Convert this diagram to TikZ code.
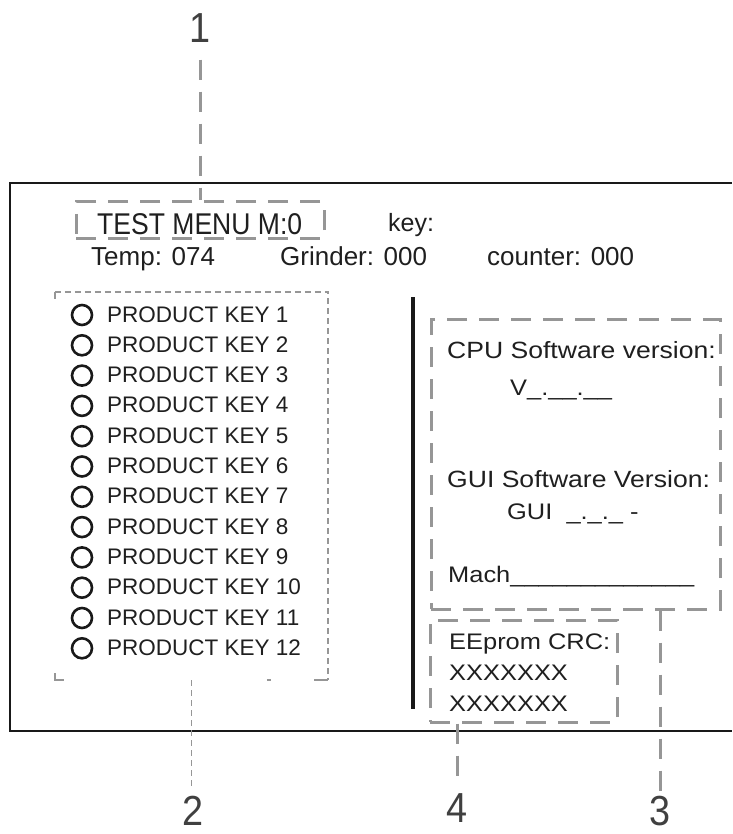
\documentclass[tikz,border=0pt]{standalone}
\usepackage{fontspec}
\setmainfont{Liberation Sans}
\newfontfamily\menufont[FakeStretch=0.885]{Liberation Sans}
\newfontfamily\widefont[FakeStretch=1.13]{Liberation Sans}
\newfontfamily\numfont[FakeStretch=0.9]{Liberation Sans}
\usetikzlibrary{calc,positioning}

\begin{document}
\begin{tikzpicture}[
    x=1pt, y=-1pt,                   % 1 unit = 1 px of the screen shot, y downwards
    txt/.style={anchor=base west,inner sep=0pt,text=black!88},
    keyring/.style={circle,draw=black!90,line width=2.6pt,minimum size=20pt,inner sep=0pt},
    callout/.style={draw=dashgray,line width=3pt,dash pattern=on 20pt off 12pt},
    keysline/.style={draw=dashgray,line width=1.5pt,dash pattern=on 6pt off 4pt},
    calloutnum/.style={inner sep=0pt,text=black!75,font=\numfont\fontsize{42}{42}\selectfont},
  ]
  \definecolor{dashgray}{RGB}{150,150,150}

  %% ---------------- screen frame (open to the right) ----------------
  \useasboundingbox (0,0) rectangle (732,834);
  \draw[line width=2.8pt,black!90] (732,183) -- (10,183) -- (10,731) -- (732,731);

  %% ---------------- header lines ----------------
  \node[callout,minimum width=248pt,minimum height=36pt] (menu) at (200,220) {};
  \node[txt,font=\menufont\fontsize{30}{30}\selectfont] (title) at (97,234) {TEST MENU M:0};
  \node[txt,font=\fontsize{25}{25}\selectfont] (key) at (388,232) {key:};
  \def\hdr{\fontsize{26}{26}\selectfont}
  \node[txt,font=\hdr] (temp) at (91,265) {Temp: 074};
  \node[txt,font=\hdr] (grinder) at (280,265) {Grinder: 000};
  \node[txt,font=\hdr] (counter) at (487,265) {counter: 000};

  %% ---------------- product keys ----------------
  \foreach \n in {1,...,12}{
    \pgfmathsetmacro{\yk}{322+30.3*(\n-1)}
    \node[keyring] (ring\n) at (82,{\yk-7}) {};
    \node[txt,font=\fontsize{22.5}{22.5}\selectfont] (pk\n) at (107,\yk) {PRODUCT KEY \n};}
  \node[minimum width=273pt,minimum height=388pt,inner sep=0pt] (keys) at (191.5,486) {};
  \draw[keysline] (keys.north west) -- (keys.north east) -- (keys.south east);
  % only the corners of the left and lower edge are left
  \draw[dashgray,line width=1.5pt] ($(keys.north west)+(0,7)$) -- (keys.north west);
  \draw[dashgray,line width=1.5pt] ($(keys.south west)+(0,-7)$) -- (keys.south west) -- ++(9,0);
  \draw[dashgray,line width=1.5pt] ($(keys.south east)+(-14,0)$) -- (keys.south east);
  \draw[dashgray,line width=1.5pt] ($(keys.south west)+(212,0)$) -- ++(4,0);

  %% ---------------- divider ----------------
  \draw[line width=4.5pt,black!90] (413,297) -- (413,709);

  %% ---------------- software versions ----------------
  \node[callout,minimum width=289pt,minimum height=290pt] (sw) at (575.5,464) {};
  \def\rgt{\widefont\fontsize{22.5}{22.5}\selectfont}
  \def\rgtB{\widefont\fontsize{23.5}{23.5}\selectfont}
  \node[txt,font=\rgtB] (cpu) at (447,358) {CPU Software version:};
  \node[txt,font=\rgt] (cpuver) at (510,395) {V\_.\_\_.\_\_};
  \node[txt,font=\rgtB] (gui) at (447,487) {GUI Software Version:};
  \node[txt,font=\rgt] (guiver) at (507,519) {GUI\ \ \_.\_.\_ -};
  \node[txt,font=\rgt] (mach) at (448,582) {Mach\_\_\_\_\_\_\_\_\_\_\_\_\_};

  %% ---------------- eeprom ----------------
  \node[callout,minimum width=187pt,minimum height=102pt] (crc) at (523.5,671) {};
  \node[txt,font=\rgt] (crctxt) at (449,649) {EEprom CRC:};
  \node[txt,font=\rgt] (crcA) at (449,680) {XXXXXXX};
  \node[txt,font=\rgt] (crcB) at (449,711) {XXXXXXX};

  %% ---------------- call-out numbers ----------------
  \node[calloutnum] (n1) at (200,28) {1};
  \node[calloutnum] (n2) at (193,811) {2};
  \node[calloutnum] (n4) at (457,808) {4};
  \node[calloutnum] (n3) at (660,811) {3};

  \draw[callout,shorten <=17pt] (n1) -- (menu.north);
  \draw[keysline,shorten >=8pt] (keys.south) -- (keys.south |- n2.north);
  \draw[callout,shorten >=6pt] (crc.south -| n4) -- (n4.north);
  \draw[callout,shorten >=4pt] (sw.south -| n3) -- (n3.north);
\end{tikzpicture}
\end{document}
